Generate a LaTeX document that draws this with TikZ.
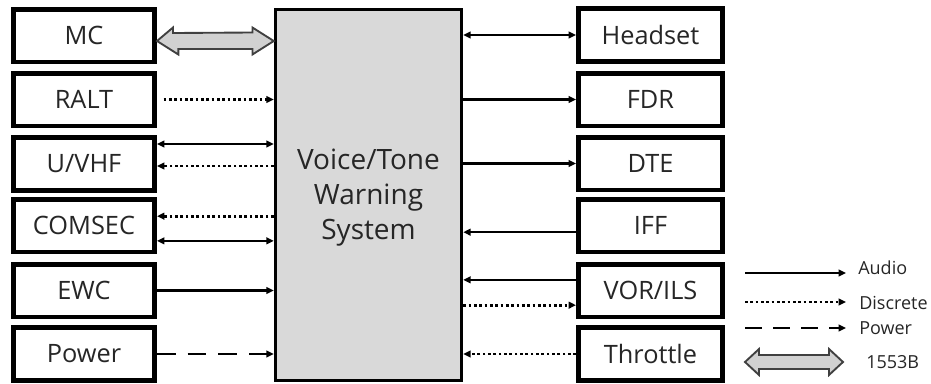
\documentclass[tikz,border=0pt]{standalone}
\usepackage{fontspec}
\setmainfont{Open Sans}
\usetikzlibrary{arrows.meta,calc}
\tikzset{mytip/.tip={Triangle[length=5.5pt,width=5pt]}}
\begin{document}
\begin{tikzpicture}[x=0.75pt,y=-0.75pt,
  box/.style={draw=black,line width=3.5pt,fill=white,minimum width=106pt,minimum height=39.5pt,inner sep=0pt,font=\fontsize{19}{22}\selectfont,text=black!85},
  rbox/.style={box,minimum width=108.25pt},
  core/.style={draw=black,line width=2.6pt,fill=black!15,minimum width=139.5pt,minimum height=278pt,inner sep=0pt},
  coretext/.style={align=center,font=\fontsize{21}{26.25}\selectfont,text=black!85,inner sep=0pt},
  audio/.style={line width=1.8pt,-{mytip}},
  audio2/.style={line width=1.8pt,{mytip}-{mytip}},
  discrete/.style={line width=2pt,dash pattern=on 2pt off 2pt,-{mytip}},
  powerline/.style={line width=1.8pt,dash pattern=on 14pt off 9pt,-{mytip}},
  bus/.style={draw=black!75,line width=1.4pt,fill=black!18,line join=miter},
  legtext/.style={font=\fontsize{13.5}{15}\selectfont,text=black!85,anchor=west,inner sep=0pt}]
\useasboundingbox (0,0) rectangle (931,383);
% central block
\node[core] (vws) at (368.5,195) {};
\node[coretext] (vwst) at (368.5,198) {Voice/Tone\\Warning\\System};
% left boxes
\node[box] (mc)  at (84,35.5)  {MC};
\node[box] (ralt) at (84,99.5) {RALT};
\node[box] (vhf) at (84,164)   {U/VHF};
\node[box] (com) at (84,225.5) {COMSEC};
\node[box] (ewc) at (84,290.5) {EWC};
\node[box] (pwr) at (84,354)   {Power};
% right boxes
\node[rbox] (hs)  at (650.5,35)    {Headset};
\node[rbox] (fdr) at (650.5,99.5)  {FDR};
\node[rbox] (dte) at (650.5,163.5) {DTE};
\node[rbox] (iff) at (650.5,225.5) {IFF};
\node[rbox] (vor) at (650.5,290.5) {VOR/ILS};
\node[rbox] (thr) at (650.5,354)   {Throttle};
% 1553B bus MC <-> VWS
\path let \p1=(mc.east), \p2=(vws.west) in
  [bus] (\x1,41) -- ++(16,-13.5) -- ++(0,5.5) -- (\x2-16,32.5) -- ++(0,-5) -- (\x2,41)
  -- (\x2-16,54.5) -- ++(0,-5.5) -- (\x1+16,49) -- ++(0,5.5) -- cycle;
% left connectors
\draw[discrete] ([xshift=5pt]ralt.east) -- (ralt.east -| vws.west);
\draw[audio2] ([yshift=15pt]vhf.east) -- ([yshift=15pt]vhf.east -| vws.west);
\draw[discrete] ([yshift=-1.5pt]vhf.east -| vws.west) -- ([yshift=-1.5pt]vhf.east);
\draw[discrete] ([yshift=7pt]com.east -| vws.west) -- ([yshift=7pt]com.east);
\draw[audio2] ([yshift=-11.5pt]com.east) -- ([yshift=-11.5pt]com.east -| vws.west);
\draw[audio] (ewc.east) -- (ewc.east -| vws.west);
\draw[powerline] (pwr.east) -- (pwr.east -| vws.west);
% right connectors
\draw[audio2] (hs.west -| vws.east) -- (hs.west);
\draw[audio] (fdr.west -| vws.east) -- (fdr.west);
\draw[audio] (dte.west -| vws.east) -- (dte.west);
\draw[audio] ([yshift=-5pt]iff.west) -- ([yshift=-5pt]iff.west -| vws.east);
\draw[audio] ([yshift=8pt]vor.west) -- ([yshift=8pt]vor.west -| vws.east);
\draw[discrete] ([yshift=-11pt]vor.west -| vws.east) -- ([yshift=-11pt]vor.west);
\draw[discrete] (thr.west) -- (thr.west -| vws.east);
% legend
\coordinate (la1) at (745,273); \coordinate (la2) at (846,273);
\coordinate (ld1) at (745,302); \coordinate (ld2) at (846,302);
\coordinate (lp1) at (745,328); \coordinate (lp2) at (846,328);
\draw[audio] (la1) -- (la2);
\draw[discrete] (ld1) -- (ld2);
\draw[line width=1.8pt,dash pattern=on 13pt off 8pt,-{mytip}] (lp1) -- (lp2);
\path[bus] (745,362) -- ++(14,-13) -- ++(0,6) -- (829,355) -- ++(0,-6) -- (843,362)
  -- (829,375) -- ++(0,-6) -- (759,369) -- ++(0,6) -- cycle;
\node[legtext] (lta) at (858,268) {Audio};
\node[legtext] (ltd) at (859,303) {Discrete};
\node[legtext] (ltp) at (859,328) {Power};
\node[legtext] (ltb) at (866,362) {1553B};
\end{tikzpicture}
\end{document}
